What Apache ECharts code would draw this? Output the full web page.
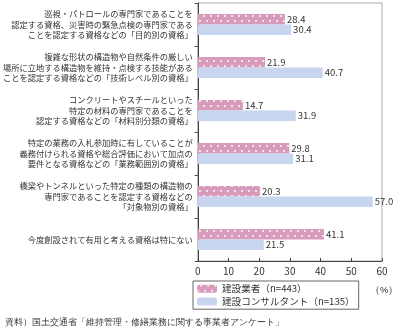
<!DOCTYPE html>
<html><head><meta charset="utf-8">
<script src="https://cdn.jsdelivr.net/npm/echarts@6/dist/echarts.min.js"></script>
<style>html,body{margin:0;padding:0;background:#fff}#c{width:395px;height:333px}</style>
</head><body><div id="c"></div>
<script>
const categories = [
  "巡視・パトロールの専門家であることを\n認定する資格、災害時の緊急点検の専門家である\nことを認定する資格などの「目的別の資格」",
  "複雑な形状の構造物や自然条件の厳しい\n場所に立地する構造物を維持・点検する技能がある\nことを認定する資格などの「技術レベル別の資格」",
  "コンクリートやスチールといった\n特定の材料の専門家であることを\n認定する資格などの「材料別分類の資格」",
  "特定の業務の入札参加時に有していることが\n義務付けられる資格や総合評価において加点の\n要件となる資格などの「業務範囲別の資格」",
  "橋梁やトンネルといった特定の種類の構造物の\n専門家であることを認定する資格などの\n「対象物別の資格」",
  "今度創設されて有用と考える資格は特にない"
];
const seriesNames = ["建設業者（n=443）", "建設コンサルタント（n=135）"];
const contractors = [28.4, 21.9, 14.7, 29.8, 20.3, 41.1];
const consultants = [30.4, 40.7, 31.9, 31.1, 57.0, 21.5];
const xTicks = [0, 10, 20, 30, 40, 50, 60];

const font = '"Noto Sans CJK JP", "Noto Sans", sans-serif';
const chart = echarts.init(document.getElementById('c'), null, {renderer: 'canvas'});
const labelOpt = {
  show: true, position: 'right', distance: 2, fontSize: 9.5, color: '#333', fontFamily: font,
  formatter: p => p.value.toFixed(1)
};
chart.setOption({
  animation: false,
  textStyle: {fontFamily: font},
  grid: {left: 192, right: 13, top: 3, bottom: 72, show: true, borderColor: '#aaa', borderWidth: 1},
  xAxis: {
    type: 'value', min: xTicks[0], max: xTicks[xTicks.length - 1], interval: 10,
    axisLine: {show: true, lineStyle: {color: '#444'}},
    axisTick: {show: true, inside: true, length: 3, lineStyle: {color: '#444'}},
    axisLabel: {fontSize: 10, color: '#333', margin: 5, fontFamily: font},
    splitLine: {show: false}
  },
  yAxis: {
    type: 'category', inverse: true, data: categories,
    axisLine: {show: true, lineStyle: {color: '#444'}},
    axisTick: {show: true, length: 3, lineStyle: {color: '#444'}},
    axisLabel: {fontSize: 8.25, lineHeight: 10.5, color: '#333', margin: 5, align: 'right', fontFamily: font}
  },
  legend: {
    orient: 'vertical', left: 193, top: 281,
    data: seriesNames,
    itemWidth: 20, itemHeight: 8, itemGap: 3,
    borderColor: '#666', borderWidth: 1, padding: [3, 4, 3, 4],
    textStyle: {fontSize: 9.6, color: '#333', fontFamily: font}
  },
  graphic: [
    {type: 'text', left: 370, top: 285, style: {text: '（%）', fontSize: 9.5, fill: '#333', font: '9.5px ' + font}},
    {type: 'text', left: 5, top: 318, style: {text: '資料）国土交通省「維持管理・修繕業務に関する事業者アンケート」', fontSize: 9.4, fill: '#333', font: '9.4px ' + font}}
  ],
  series: [
    {
      name: seriesNames[0], type: 'bar', data: contractors, barWidth: 10.5, barGap: '0%',
      itemStyle: {
        color: '#d99bbb',
        decal: {symbol: 'circle', symbolSize: 1, color: 'rgba(255,255,255,0.95)',
                dashArrayX: [[1.2, 4.8], [0, 3, 1.2, 1.8]], dashArrayY: [1.2, 2.3], rotation: 0}
      },
      label: labelOpt
    },
    {
      name: seriesNames[1], type: 'bar', data: consultants, barWidth: 10.5, barGap: '0%',
      itemStyle: {color: '#c8d5ee'},
      label: labelOpt
    }
  ]
});
</script></body></html>
